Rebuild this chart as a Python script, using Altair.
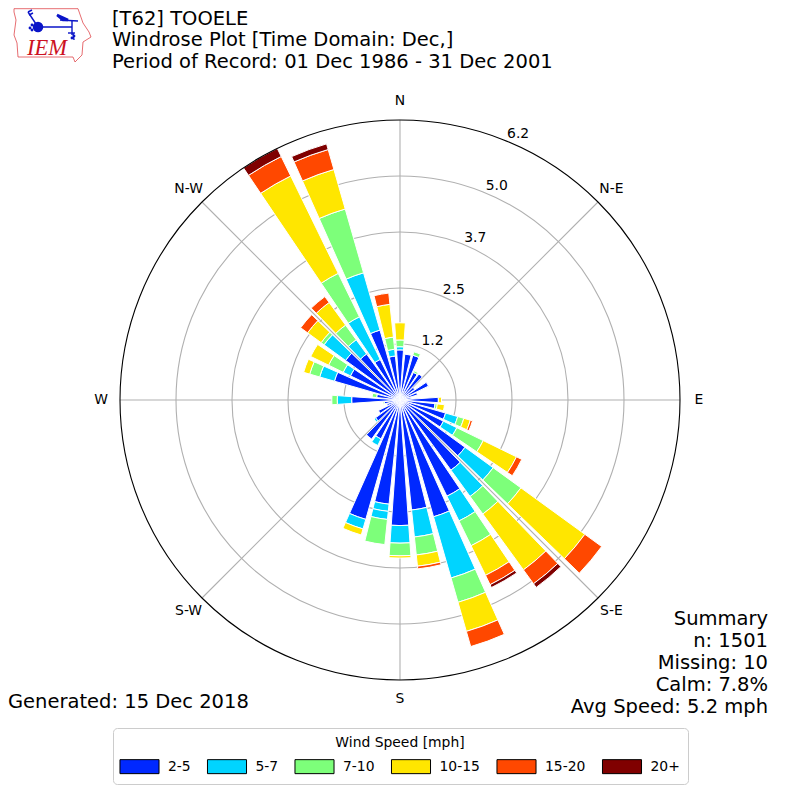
import math
import altair as alt
import pandas as pd

FONT = "DejaVu Sans"
SPEEDS = ["2-5", "5-7", "7-10", "10-15", "15-20", "20+"]
COLORS = ["#0028ff", "#00d4ff", "#7dff7a", "#ffe600", "#ff4800", "#800000"]
DIRECTIONS = list(range(0, 360, 10))

# cumulative percent at the top of each speed bin, for 0, 10, ... 350 degrees
TOP_2_5 = [1.11,1.02,1.03,.68,.71,.40,.70,.40,.25,.85,.78,1.05,1.07,1.78,1.92,2.37,2.69,2.45,2.78,2.32,2.75,.96,1.07,.67,.53,.30,.35,1.07,.52,1.51,1.22,1.49,1.26,1.00,1.61,.98]
TOP_5_7 = [1.18,1.02,1.03,.68,.71,.40,.70,.40,.25,.85,.78,1.33,1.40,2.55,2.64,2.98,4.10,3.05,3.17,2.66,2.97,1.12,1.07,.71,.53,.30,.35,1.39,.52,1.85,1.40,2.08,1.65,2.05,2.93,1.13]
TOP_7_10 = [1.33,1.02,1.11,.72,.71,.40,.70,.40,.25,.85,.83,1.47,2.05,3.31,3.12,3.59,4.66,3.45,3.45,3.22,2.97,1.12,1.07,.71,.53,.30,.38,1.51,.62,2.08,1.76,2.16,2.05,3.12,4.40,1.40]
TOP_10_15 = [1.71,1.02,1.11,.72,.71,.40,.70,.40,.25,.92,.99,1.62,2.87,5.06,4.65,4.32,5.33,3.70,3.50,3.22,3.11,1.12,1.07,.71,.53,.30,.38,1.51,.62,2.22,2.20,2.53,2.67,5.52,5.31,2.13]
TOP_15_20 = [1.71,1.02,1.11,.72,.71,.40,.70,.40,.25,.92,.99,1.67,3.00,5.52,5.03,4.55,5.68,3.76,3.50,3.22,3.11,1.12,1.07,.71,.53,.30,.38,1.51,.62,2.22,2.20,2.72,2.83,6.00,5.77,2.38]
TOP_20 = [1.71,1.02,1.11,.72,.71,.40,.70,.40,.25,.92,.99,1.67,3.00,5.52,5.13,4.62,5.68,3.76,3.50,3.22,3.11,1.12,1.07,.71,.53,.30,.38,1.51,.62,2.22,2.20,2.72,2.83,6.20,5.90,2.38]
TOPS = [TOP_2_5, TOP_5_7, TOP_7_10, TOP_10_15, TOP_15_20, TOP_20]
# thin white seam seen inside the 190-degree 5-7 band: direction, bin index, value
SEAMS = [(190, 1, 2.48)]

RING_VALUES = [1.24, 2.48, 3.72, 4.96]
RING_LABELS = ["1.2", "2.5", "3.7", "5.0", "6.2"]
RMAX = 6.2
COMPASS = ["N", "N-E", "E", "S-E", "S", "S-W", "W", "N-W"]
SPOKES = [0, 45, 90, 135, 180, 225, 270, 315]
TITLE_LINES = ["[T62] TOOELE", "Windrose Plot [Time Domain: Dec,]", "Period of Record: 01 Dec 1986 - 31 Dec 2001"]
SUMMARY_LINES = ["Summary", "n: 1501", "Missing: 10", "Calm: 7.8%", "Avg Speed: 5.2 mph"]
GENERATED = "Generated: 15 Dec 2018"

# logo shapes, in picture pixels
LOGO_OUTLINE = [(14,8.7),(78,8.7),(83,23),(89,32),(91,37),(83,42),(82,55),(75,62),(73,57),(18,57),(17,43),(14,35),(16,20),(14,12),(14,8.7)]
LOGO_BARBS = [
    [(38,27),(72,27)], [(72,20),(72,35)], [(60,20),(78,21)],
    [(38,27),(28,12)], [(28,12),(32,10)], [(29,15),(33,13)],
    [(68,33),(75,33)], [(73,33),(74,40)],
]
LOGO_PENNANT = [(57,15),(68,20),(63,20),(57,15)]
LOGO_DOTS = [(38,27),(30,28),(32,25),(32,30),(72,38),(74,36)]
LOGO_DOT_SIZES = [110,8,8,8,8,8]

C = 392.0
R = 280.0
SPAN = C / R * RMAX
xs = alt.Scale(domain=[-SPAN, SPAN], range=[0, 784])
ys = alt.Scale(domain=[-SPAN, SPAN], range=[784, 0])
ts = alt.Scale(domain=[0, 360], range=[0, math.tau])
rs = alt.Scale(domain=[0, RMAX], range=[0, R])
cs = alt.Scale(domain=SPEEDS, range=COLORS)

def px(x, y):
    return (x - 8 - C) / R * RMAX, -(y - 8 - C) / R * RMAX

def polar(r, deg):
    return r * math.sin(math.radians(deg)), r * math.cos(math.radians(deg))

rows = []
for i, d in enumerate(DIRECTIONS):
    low = 0.0
    for j, (s, tops) in enumerate(zip(SPEEDS, TOPS)):
        if tops[i] > low:
            for sd, sj, sv in SEAMS:
                if sd == d and sj == j:
                    rows.append(dict(t0=d - 4, t1=d + 4, r0=low, r1=sv, speed=s))
                    low = sv
            rows.append(dict(t0=d - 4, t1=d + 4, r0=low, r1=tops[i], speed=s))
            low = tops[i]
bars = pd.DataFrame(rows)

rings = pd.DataFrame({"r": RING_VALUES, "a": 0, "b": 360})
outer = pd.DataFrame({"r": [RMAX], "a": [0], "b": [360]})
spk = pd.DataFrame([
    dict(x=polar(RMAX, d)[0], y=polar(RMAX, d)[1], x0=0.0, y0=0.0) for d in SPOKES
])

def ring_layer(df, color):
    return alt.Chart(df).mark_arc(fillOpacity=0, stroke=color, strokeWidth=1.1).encode(
        theta=alt.Theta("a:Q", scale=ts, stack=False),
        theta2="b:Q",
        radius=alt.Radius("r:Q", scale=rs),
    )

grid = ring_layer(rings, "#b0b0b0")
frame = ring_layer(outer, "#000000")
spokes = alt.Chart(spk).mark_rule(color="#b0b0b0", strokeWidth=1.1).encode(
    x=alt.X("x0:Q", scale=xs, axis=None),
    y=alt.Y("y0:Q", scale=ys, axis=None),
    x2="x:Q",
    y2="y:Q",
)

legend = alt.Legend(
    title="Wind Speed [mph]", orient="none", legendX=105, legendY=720,
    direction="horizontal", columns=6, gridAlign="each",
    symbolType="M-2.79,-1H2.79V1H-2.79Z", symbolSize=196, symbolOffset=11,
    symbolStrokeColor="black", symbolStrokeWidth=1, symbolOpacity=1,
    labelFont=FONT, labelFontSize=13.9, labelColor="black", labelOffset=21,
    titleFont=FONT, titleFontSize=13.9, titleFontWeight="normal", titleColor="black",
    titleAnchor="middle", titlePadding=9,
    columnPadding=13.5, padding=8, fillColor="white", strokeColor="#cccccc", cornerRadius=4,
)
wedges = alt.Chart(bars).mark_arc(stroke="white", strokeWidth=1).encode(
    theta=alt.Theta("t0:Q", scale=ts, stack=False),
    theta2="t1:Q",
    radius=alt.Radius("r1:Q", scale=rs),
    radius2="r0:Q",
    color=alt.Color("speed:N", scale=cs, legend=legend, sort=SPEEDS),
)

rl = []
for v, lab in zip(RING_VALUES + [RMAX], RING_LABELS):
    x, y = polar(v, 22.5)
    rl.append(dict(x=x, y=y, t=lab))
ring_text = alt.Chart(pd.DataFrame(rl)).mark_text(font=FONT, fontSize=13.9, color="black", dx=11, dy=-7).encode(
    x=alt.X("x:Q", scale=xs, axis=None), y=alt.Y("y:Q", scale=ys, axis=None), text="t:N")

cl = []
for d, lab in zip(SPOKES, COMPASS):
    x, y = polar(6.62, d)
    cl.append(dict(x=x, y=y, t=lab))
compass_text = alt.Chart(pd.DataFrame(cl)).mark_text(font=FONT, fontSize=13.9, color="black").encode(
    x=alt.X("x:Q", scale=xs, axis=None), y=alt.Y("y:Q", scale=ys, axis=None), text="t:N")

def label(s, x, y, align):
    return alt.Chart(pd.DataFrame({"t": [s]})).mark_text(
        font=FONT, fontSize=19.5, color="black", align=align, baseline="middle"
    ).encode(x=alt.value(x), y=alt.value(y), text="t:N")

texts = []
for s, y in zip(TITLE_LINES, (11, 32, 54)):
    texts.append(label(s, 104, y, "left"))
for s, y in zip(SUMMARY_LINES, (611, 633, 655, 677, 699)):
    texts.append(label(s, 760, y, "right"))
texts.append(label(GENERATED, 0, 694, "left"))

def logo_line(points, color, width):
    df = pd.DataFrame([dict(zip("xy", px(*p)), i=i) for i, p in enumerate(points)])
    return alt.Chart(df).mark_line(color=color, strokeWidth=width).encode(
        x=alt.X("x:Q", scale=xs, axis=None), y=alt.Y("y:Q", scale=ys, axis=None), order="i:Q")

logo = [logo_line(LOGO_OUTLINE, "#e0484c", 0.8)]
logo += [logo_line(b, "#0a14c8", 1.4) for b in LOGO_BARBS]
logo.append(logo_line(LOGO_PENNANT, "#0a14c8", 2.5))
dots = pd.DataFrame([dict(zip("xy", px(*p)), s=s) for p, s in zip(LOGO_DOTS, LOGO_DOT_SIZES)])
logo.append(alt.Chart(dots).mark_circle(color="#0a14c8", opacity=1).encode(
    x=alt.X("x:Q", scale=xs, axis=None), y=alt.Y("y:Q", scale=ys, axis=None),
    size=alt.Size("s:Q", scale=None, legend=None)))
logo.append(alt.Chart(pd.DataFrame({"t": ["IEM"]})).mark_text(
    font="Liberation Serif", fontStyle="italic", fontSize=22.5, color="#cc1122", align="left", baseline="alphabetic"
).encode(x=alt.value(19), y=alt.value(47), text="t:N"))

chart = alt.layer(grid, spokes, wedges, frame, ring_text, compass_text, *texts, *logo).properties(
    width=784, height=784, padding=0, background="white",
    autosize=alt.AutoSizeParams(type="none", contains="padding"),
).configure_view(stroke=None)

chart.save("out.html", embed_options={"renderer": "svg", "actions": False})
